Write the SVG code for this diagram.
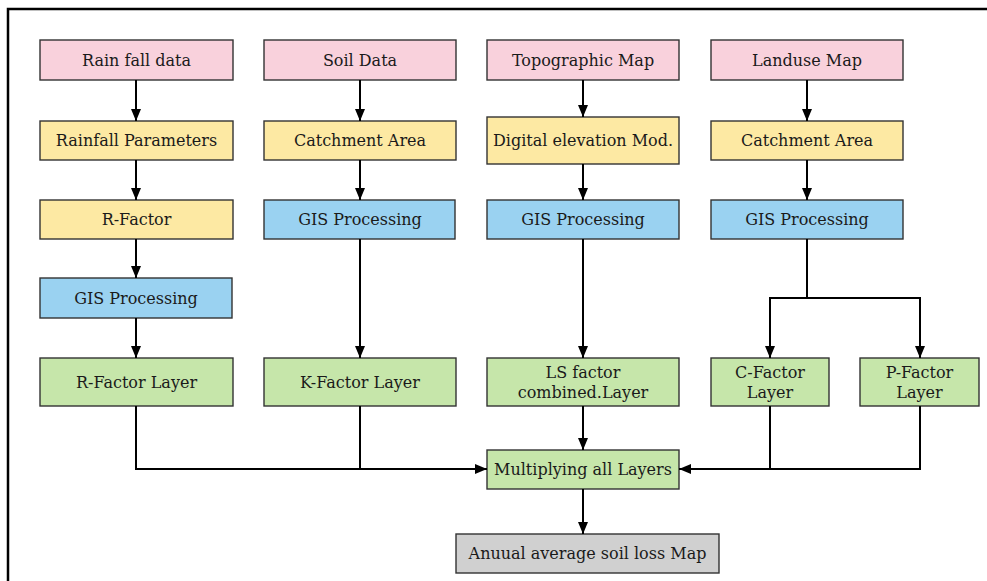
<svg xmlns="http://www.w3.org/2000/svg" width="987" height="581" viewBox="0 0 987 581">
  <defs>
    <marker id="arrow" viewBox="0 0 12 10" refX="12" refY="5" markerWidth="12" markerHeight="10" markerUnits="userSpaceOnUse" orient="auto">
      <path d="M0,0 L12,5 L0,10 Z" fill="#000"/>
    </marker>
    <style>
      .box rect { stroke: #333; stroke-width: 1.4; }
      .src rect { fill: #f9d1dc; }
      .prm rect { fill: #fde9a3; }
      .gis rect { fill: #9ad2f1; }
      .lyr rect { fill: #c6e6aa; }
      .out rect { fill: #d0d0d0; }
      text { font-family: "DejaVu Serif", "Liberation Serif", serif; font-size: 16px; fill: #1a1a1a; text-anchor: middle; }
      .wire { fill: none; stroke: #000; stroke-width: 2; }
      .arr { marker-end: url(#arrow); }
    </style>
  </defs>
  <rect width="987" height="581" fill="#fff"/>
  <!-- outer frame: top and left edges -->
  <path d="M8,581 V9 H987" fill="none" stroke="#000" stroke-width="2.5"/>

  <!-- column 1: rainfall -->
  <g id="rainfall-data" class="box src"><rect x="40" y="40" width="193" height="40"/><text x="136.5" y="66">Rain fall data</text></g>
  <g id="rainfall-parameters" class="box prm"><rect x="40" y="121" width="193" height="39"/><text x="136.5" y="146">Rainfall Parameters</text></g>
  <g id="r-factor" class="box prm"><rect x="40" y="200" width="193" height="39"/><text x="136.5" y="225">R-Factor</text></g>
  <g id="gis-r" class="box gis"><rect x="40" y="278" width="192" height="40"/><text x="136" y="304">GIS Processing</text></g>
  <g id="r-factor-layer" class="box lyr"><rect x="40" y="358" width="193" height="48"/><text x="136.5" y="388">R-Factor Layer</text></g>

  <!-- column 2: soil -->
  <g id="soil-data" class="box src"><rect x="264" y="40" width="192" height="40"/><text x="360" y="66">Soil Data</text></g>
  <g id="catchment-soil" class="box prm"><rect x="264" y="121" width="192" height="39"/><text x="360" y="146">Catchment Area</text></g>
  <g id="gis-k" class="box gis"><rect x="264" y="200" width="191" height="39"/><text x="360" y="225">GIS Processing</text></g>
  <g id="k-factor-layer" class="box lyr"><rect x="264" y="358" width="192" height="48"/><text x="360" y="388">K-Factor Layer</text></g>

  <!-- column 3: topography -->
  <g id="topographic-map" class="box src"><rect x="487" y="40" width="192" height="40"/><text x="583" y="66">Topographic Map</text></g>
  <g id="dem" class="box prm"><rect x="487" y="117" width="192" height="47"/><text x="583" y="146">Digital elevation Mod.</text></g>
  <g id="gis-ls" class="box gis"><rect x="487" y="200" width="192" height="39"/><text x="583" y="225">GIS Processing</text></g>
  <g id="ls-layer" class="box lyr"><rect x="487" y="358" width="192" height="48"/><text x="583" y="378">LS factor</text><text x="583" y="398">combined.Layer</text></g>

  <!-- column 4: land use -->
  <g id="landuse-map" class="box src"><rect x="711" y="40" width="192" height="40"/><text x="807" y="66">Landuse Map</text></g>
  <g id="catchment-landuse" class="box prm"><rect x="711" y="121" width="192" height="39"/><text x="807" y="146">Catchment Area</text></g>
  <g id="gis-cp" class="box gis"><rect x="711" y="200" width="192" height="39"/><text x="807" y="225">GIS Processing</text></g>
  <g id="c-factor-layer" class="box lyr"><rect x="711" y="358" width="118" height="48"/><text x="770" y="378">C-Factor</text><text x="770" y="398">Layer</text></g>
  <g id="p-factor-layer" class="box lyr"><rect x="860" y="358" width="119" height="48"/><text x="919.5" y="378">P-Factor</text><text x="919.5" y="398">Layer</text></g>

  <!-- combination and result -->
  <g id="multiply" class="box lyr"><rect x="487" y="450" width="192" height="39"/><text x="583" y="475">Multiplying all Layers</text></g>
  <g id="soil-loss-map" class="box out"><rect x="456" y="534" width="263" height="39"/><text x="587.5" y="559">Anuual average soil loss Map</text></g>

  <g id="connectors">
    <path class="wire arr" d="M136,80 V121"/>
    <path class="wire arr" d="M136,160 V200"/>
    <path class="wire arr" d="M136,239 V278"/>
    <path class="wire arr" d="M136,318 V358"/>

    <path class="wire arr" d="M360,80 V121"/>
    <path class="wire arr" d="M360,160 V200"/>
    <path class="wire arr" d="M360,239 V358"/>

    <path class="wire arr" d="M583,80 V117"/>
    <path class="wire arr" d="M583,164 V200" stroke-width="1.4"/>
    <path class="wire arr" d="M583,239 V358"/>
    <path class="wire arr" d="M583,406 V450"/>

    <path class="wire arr" d="M807,80 V121"/>
    <path class="wire arr" d="M807,160 V200"/>
    <path class="wire" d="M807,239 V298"/>
    <path class="wire arr" d="M807,298 H770 V358"/>
    <path class="wire arr" d="M807,298 H920 V358"/>

    <path class="wire arr" d="M136,406 V469 H487"/>
    <path class="wire" d="M360,406 V469"/>
    <path class="wire arr" d="M920,406 V469 H679"/>
    <path class="wire" d="M770,406 V469"/>

    <path class="wire arr" d="M583,489 V534"/>
  </g>
</svg>
